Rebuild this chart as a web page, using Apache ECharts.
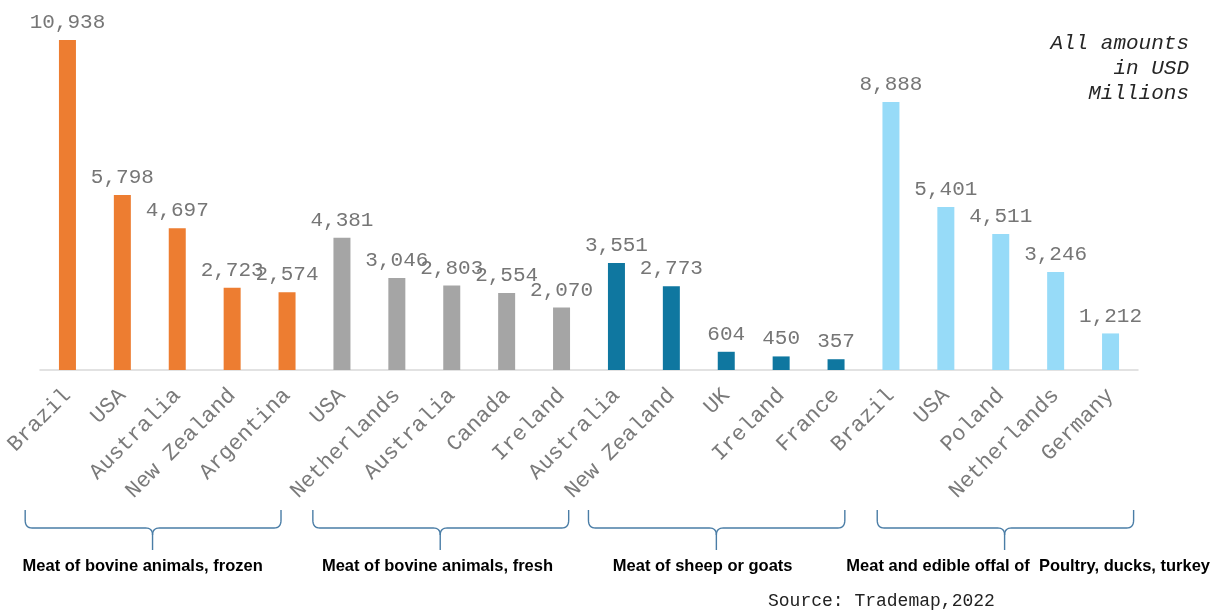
<!DOCTYPE html>
<html>
<head>
<meta charset="utf-8">
<title>Top meat exporters by category</title>
<script src="https://cdn.jsdelivr.net/npm/echarts@6/dist/echarts.min.js"></script>
<style>
  html, body { margin: 0; padding: 0; background: #ffffff; }
  #chart { width: 1220px; height: 611px; }
</style>
</head>
<body>
<div id="chart"></div>
<script>
// Exporting countries, grouped by product category (five per group)
var countries = [
  'Brazil', 'USA', 'Australia', 'New Zealand', 'Argentina',
  'USA', 'Netherlands', 'Australia', 'Canada', 'Ireland',
  'Australia', 'New Zealand', 'UK', 'Ireland', 'France',
  'Brazil', 'USA', 'Poland', 'Netherlands', 'Germany'
];

// Export values, USD millions
var exportValues = [
  10938, 5798, 4697, 2723, 2574,
  4381, 3046, 2803, 2554, 2070,
  3551, 2773, 604, 450, 357,
  8888, 5401, 4511, 3246, 1212
];

// Product categories and the index of each country's category
var groupNames = [
  'Meat of bovine animals, frozen',
  'Meat of bovine animals, fresh',
  'Meat of sheep or goats',
  'Meat and edible offal of  Poultry, ducks, turkey'
];
var groupOf = [
  0, 0, 0, 0, 0,
  1, 1, 1, 1, 1,
  2, 2, 2, 2, 2,
  3, 3, 3, 3, 3
];

var groupColors = ['#ED7D31', '#A5A5A5', '#0F77A0', '#97DBF8'];

// Brace geometry in category units: [left end, right end, tip, label centre]
var braceSpans = [
  [-0.77, 3.89, 1.55, 1.37],
  [4.47, 9.13, 6.79, 6.74],
  [9.49, 14.16, 11.82, 11.57],
  [14.75, 19.42, 17.07, 17.50]
];

var mono = '"Liberation Mono", "DejaVu Sans Mono", monospace';

function fmt(v) {
  return String(v).replace(/\B(?=(\d{3})+(?!\d))/g, ',');
}

var chart = echarts.init(document.getElementById('chart'), null, { renderer: 'canvas' });

chart.setOption({
  animation: false,
  backgroundColor: '#ffffff',
  grid: { left: 40, right: 82, top: 8, bottom: 241, containLabel: false },
  xAxis: {
    type: 'category',
    data: countries,
    axisLine: { show: true, lineStyle: { color: '#D9D9D9', width: 1.5 } },
    axisTick: { show: false },
    axisLabel: {
      interval: 0,
      rotate: 45,
      margin: 22,
      fontFamily: mono,
      fontSize: 22,
      color: '#7A7A7A'
    }
  },
  yAxis: {
    type: 'value',
    min: 0,
    max: 12000,
    show: false,
    splitLine: { show: false }
  },
  series: [{
    type: 'bar',
    barWidth: 17,
    data: exportValues.map(function (v, i) {
      return { value: v, itemStyle: { color: groupColors[groupOf[i]] } };
    }),
    label: {
      show: true,
      position: 'top',
      distance: 7,
      fontFamily: mono,
      fontSize: 21,
      color: '#767676',
      formatter: function (p) { return fmt(p.value); }
    }
  }]
});

// Curly braces and category names beneath the country labels
function catX(u) {
  var x0 = chart.convertToPixel({ xAxisIndex: 0 }, 0);
  var x1 = chart.convertToPixel({ xAxisIndex: 0 }, 1);
  return x0 + (x1 - x0) * u;
}

// Sample a quadratic curve from p0 to p2 with control point p1
function quad(p0, p1, p2, pts) {
  for (var k = 1; k <= 8; k++) {
    var t = k / 8, m = 1 - t;
    pts.push([
      m * m * p0[0] + 2 * m * t * p1[0] + t * t * p2[0],
      m * m * p0[1] + 2 * m * t * p1[1] + t * t * p2[1]
    ]);
  }
}

var graphics = [];
var yTop = 510, yLine = 528, yTip = 550, r = 7;
var braceStyle = { fill: null, stroke: '#4A7DA6', lineWidth: 1.4 };

braceSpans.forEach(function (s, g) {
  var a = catX(s[0]), b = catX(s[1]), t = catX(s[2]), c = catX(s[3]);

  // left half: end hook -> line -> down into the tip
  var left = [[a, yTop], [a, yTop + 10]];
  quad([a, yTop + 10], [a, yLine], [a + r, yLine], left);
  left.push([t - r, yLine]);
  quad([t - r, yLine], [t, yLine], [t, yLine + r], left);
  left.push([t, yTip]);

  // right half: from the tip -> line -> end hook
  var right = [[t, yLine + r]];
  quad([t, yLine + r], [t, yLine], [t + r, yLine], right);
  right.push([b - r, yLine]);
  quad([b - r, yLine], [b, yLine], [b, yTop + 10], right);
  right.push([b, yTop]);

  graphics.push({ type: 'polyline', shape: { points: left }, style: braceStyle });
  graphics.push({ type: 'polyline', shape: { points: right }, style: braceStyle });
  graphics.push({
    type: 'text',
    x: c,
    y: 566,
    style: {
      text: groupNames[g],
      align: 'center',
      verticalAlign: 'middle',
      font: 'bold 16.5px "Liberation Sans", Arial, sans-serif',
      fill: '#000000'
    }
  });
});

graphics.push({
  type: 'text',
  x: 1189,
  y: 31,
  style: {
    text: 'All amounts\nin USD\nMillions',
    align: 'right',
    verticalAlign: 'top',
    lineHeight: 25,
    font: 'italic 21px ' + mono,
    fill: '#262626'
  }
});

graphics.push({
  type: 'text',
  x: 768,
  y: 601,
  style: {
    text: 'Source: Trademap,2022',
    align: 'left',
    verticalAlign: 'middle',
    font: '18px ' + mono,
    fill: '#222222'
  }
});

chart.setOption({ graphic: graphics });
</script>
</body>
</html>
